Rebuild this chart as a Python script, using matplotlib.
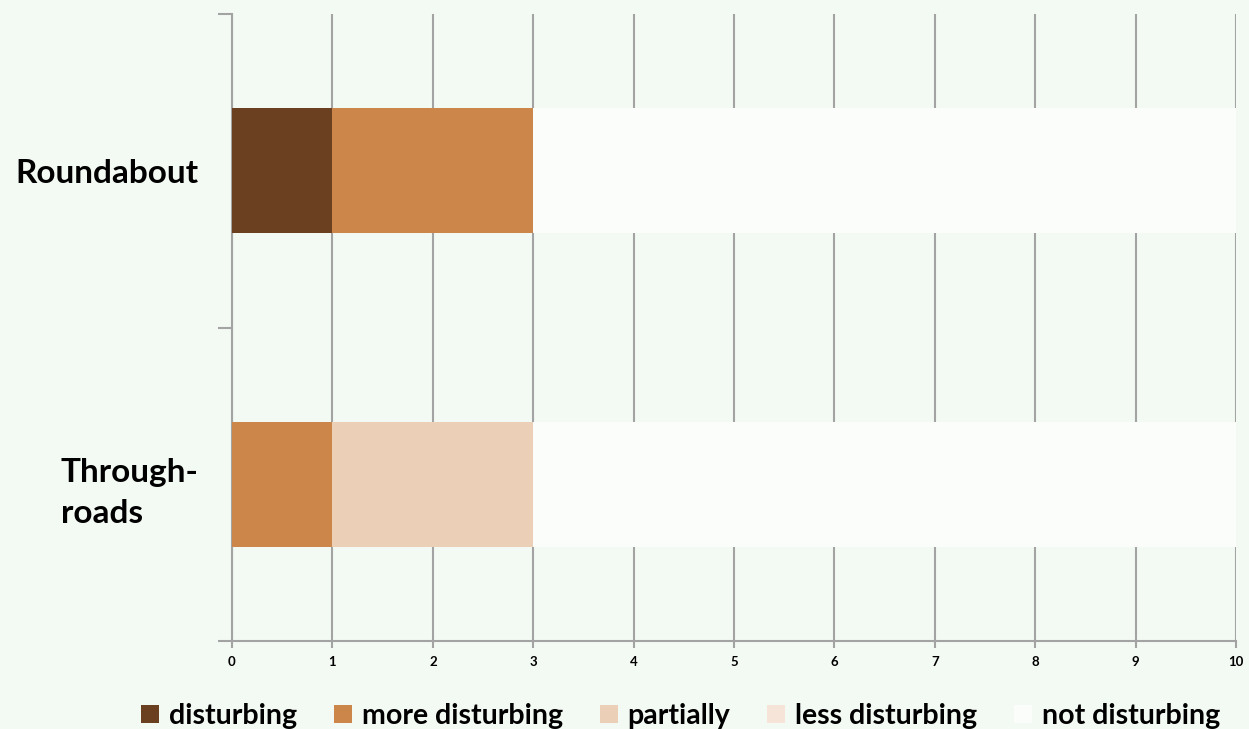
import numpy as np
import matplotlib.pyplot as plt

# stacked ratings per road type
categories = ["Roundabout", "Through-\nroads"]
levels = ["disturbing", "more disturbing", "partially", "less disturbing", "not disturbing"]
counts = {
    "disturbing":      [1, 0],
    "more disturbing": [2, 1],
    "partially":       [0, 2],
    "less disturbing": [0, 0],
    "not disturbing":  [7, 7],
}
colors = ["#6B4020", "#CD8649", "#ECCFB7", "#F6E4D8", "#FBFDFA"]

BG = "#F3F9F3"
GRID = "#A3A3A3"

plt.rcParams["font.family"] = ["Lato", "DejaVu Sans"]
plt.rcParams["font.weight"] = "bold"

fig = plt.figure(figsize=(12.49, 7.29), dpi=100, facecolor=BG)
ax = fig.add_axes([232 / 1249, 1 - 641 / 729, (1236 - 232) / 1249, (641 - 14) / 729])
ax.set_facecolor(BG)

y = np.arange(len(categories))
left = np.zeros(len(categories))
for lvl, c in zip(levels, colors):
    vals = np.array(counts[lvl], dtype=float)
    ax.barh(y, vals, left=left, height=0.4, color=c, label=lvl, zorder=3)
    left += vals

ax.set_xlim(0, 10)
ax.set_ylim(1.5, -0.5)
ax.set_xticks(range(11))
ax.tick_params(axis="x", length=5, width=1.5, color=GRID, labelsize=9.5, pad=6)
ax.grid(axis="x", color=GRID, linewidth=1.5, zorder=1)

# category boundaries as major ticks, labels in the middle
ax.set_yticks([-0.5, 0.5, 1.5])
ax.set_yticklabels([])
ax.tick_params(axis="y", length=10, width=1.5, color=GRID)
ax.set_yticks(y, minor=True)
ax.set_yticklabels(categories, minor=True, fontsize=24, fontweight="bold")
ax.tick_params(axis="y", which="minor", length=0, pad=24)
for t in ax.get_yticklabels(minor=True):
    t.set_multialignment("left")
    t.set_linespacing(1.5)

for s in ["top", "right"]:
    ax.spines[s].set_visible(False)
for s in ["left", "bottom"]:
    ax.spines[s].set_color(GRID)
    ax.spines[s].set_linewidth(1.5)

fig.legend(loc="lower center", bbox_to_anchor=(0.545, -0.035), ncol=5, frameon=False,
           handlelength=0.62, handleheight=0.62, handletextpad=0.35,
           columnspacing=1.3, prop={"weight": "bold", "size": 20.5})

fig.savefig("out.png", dpi=100, facecolor=BG)
